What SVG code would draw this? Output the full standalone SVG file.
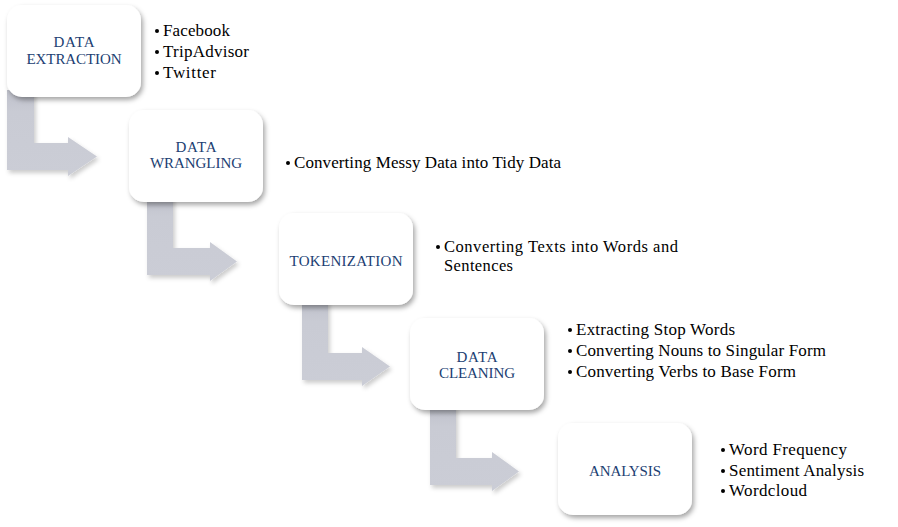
<svg xmlns="http://www.w3.org/2000/svg" width="898" height="527" viewBox="0 0 898 527">
<defs>
<filter id="bsh" x="-20%" y="-20%" width="140%" height="140%">
<feDropShadow dx="2" dy="3" stdDeviation="2.5" flood-color="#000" flood-opacity="0.35"/>
</filter>
<filter id="ash" x="-20%" y="-20%" width="140%" height="140%">
<feDropShadow dx="2" dy="3" stdDeviation="2" flood-color="#000" flood-opacity="0.2"/>
</filter>
<linearGradient id="ag" x1="0" y1="0" x2="0" y2="1">
<stop offset="0" stop-color="#bfc1cb"/>
<stop offset="0.25" stop-color="#c9cbd4"/>
<stop offset="1" stop-color="#cbcdd6"/>
</linearGradient>
</defs>
<style>
.box{fill:#ffffff;filter:url(#bsh);}
.arr{fill:url(#ag);filter:url(#ash);}
.lbl{font-family:"Liberation Serif","Times New Roman",serif;font-size:15px;fill:#213e72;text-anchor:middle;}
.bt{font-family:"Liberation Serif","Times New Roman",serif;font-size:17px;fill:#000000;}
.bs{font-family:"Liberation Serif","Times New Roman",serif;font-size:16.5px;fill:#000000;}
.dot{fill:#000000;}
</style>
<rect width="898" height="527" fill="#ffffff"/>
<g id="connectors">
<path class="arr" d="M7,90 H34 V143 H68 V137 L97,156.5 L68,176 V170 H7 Z"/>
<path class="arr" d="M147,195 H173 V248 H210 V242 L237,261.5 L210,281 V275 H147 Z"/>
<path class="arr" d="M302,300 H328 V353 H362 V347 L390,366.5 L362,386 V380 H302 Z"/>
<path class="arr" d="M430,405 H456 V458 H492 V452 L519,471.5 L492,491 V485 H430 Z"/>
</g>
<g id="node-extraction">
<rect class="box" x="7" y="5" width="134" height="92" rx="15"/>
<text class="lbl" x="74" y="47" textLength="41">DATA</text>
<text class="lbl" x="74" y="64" textLength="95">EXTRACTION</text>
<circle class="dot" cx="157" cy="31" r="2"/>
<text class="bt" x="163" y="36" textLength="67">Facebook</text>
<circle class="dot" cx="157" cy="52" r="2"/>
<text class="bt" x="163" y="57" textLength="86">TripAdvisor</text>
<circle class="dot" cx="157" cy="73" r="2"/>
<text class="bt" x="163" y="78" textLength="53">Twitter</text>
</g>
<g id="node-wrangling">
<rect class="box" x="129" y="110" width="134" height="92" rx="15"/>
<text class="lbl" x="196" y="152" textLength="41">DATA</text>
<text class="lbl" x="196" y="168" textLength="92">WRANGLING</text>
<circle class="dot" cx="288" cy="163" r="2"/>
<text class="bt" x="294" y="168" textLength="267">Converting Messy Data into Tidy Data</text>
</g>
<g id="node-tokenization">
<rect class="box" x="279" y="213" width="134" height="92" rx="15"/>
<text class="lbl" x="346" y="266" textLength="113">TOKENIZATION</text>
<circle class="dot" cx="438" cy="247" r="2"/>
<text class="bs" x="444" y="252" textLength="234">Converting Texts into Words and</text>
<text class="bs" x="444" y="271" textLength="69">Sentences</text>
</g>
<g id="node-cleaning">
<rect class="box" x="410" y="318" width="134" height="92" rx="15"/>
<text class="lbl" x="477" y="362" textLength="41">DATA</text>
<text class="lbl" x="477" y="378" textLength="76">CLEANING</text>
<circle class="dot" cx="570" cy="330" r="2"/>
<text class="bt" x="576" y="335" textLength="159">Extracting Stop Words</text>
<circle class="dot" cx="570" cy="351" r="2"/>
<text class="bt" x="576" y="356" textLength="250">Converting Nouns to Singular Form</text>
<circle class="dot" cx="570" cy="372" r="2"/>
<text class="bt" x="576" y="377" textLength="220">Converting Verbs to Base Form</text>
</g>
<g id="node-analysis">
<rect class="box" x="558" y="423" width="134" height="92" rx="15"/>
<text class="lbl" x="625" y="476" textLength="72">ANALYSIS</text>
<circle class="dot" cx="723" cy="450" r="2"/>
<text class="bt" x="729" y="455" textLength="118">Word Frequency</text>
<circle class="dot" cx="723" cy="471" r="2"/>
<text class="bt" x="729" y="476" textLength="135">Sentiment Analysis</text>
<circle class="dot" cx="723" cy="491" r="2"/>
<text class="bt" x="729" y="496" textLength="78">Wordcloud</text>
</g>
</svg>
